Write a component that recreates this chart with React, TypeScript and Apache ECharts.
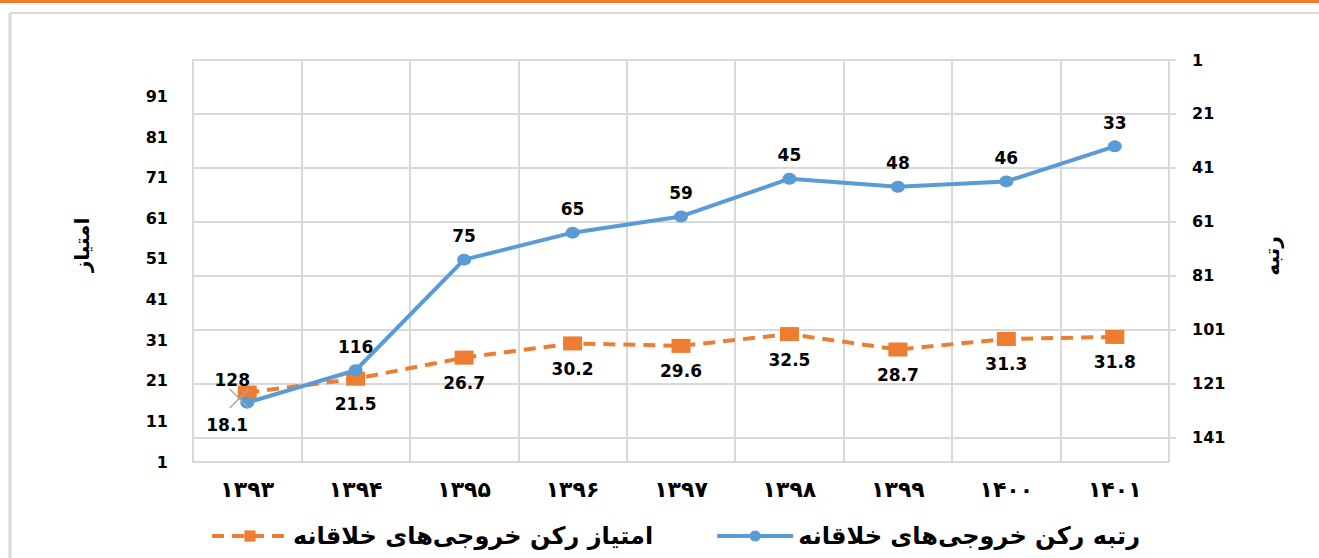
import React, { useEffect, useRef } from "react";
import * as echarts from "echarts";

const years = ["۱۳۹۳", "۱۳۹۴", "۱۳۹۵", "۱۳۹۶", "۱۳۹۷", "۱۳۹۸", "۱۳۹۹", "۱۴۰۰", "۱۴۰۱"];
const rankValues = [128, 116, 75, 65, 59, 45, 48, 46, 33];
const scoreValues = [18.1, 21.5, 26.7, 30.2, 29.6, 32.5, 28.7, 31.3, 31.8];
const scoreTicks = [1, 11, 21, 31, 41, 51, 61, 71, 81, 91];
const rankTicks = [1, 21, 41, 61, 81, 101, 121, 141];
const rankName = "رتبه رکن خروجی‌های خلاقانه";
const scoreName = "امتیاز رکن خروجی‌های خلاقانه";
const leftAxisTitle = "امتیاز";
const rightAxisTitle = "رتبه";

const BLUE = "#5B9BD5";
const ORANGE = "#ED7D31";
const GRID = "#D9D9D9";
const FONT = "DejaVu Sans";

export default function App() {
  const ref = useRef<HTMLDivElement>(null);
  useEffect(() => {
    if (!ref.current) return;
    const chart = echarts.init(ref.current, undefined, { renderer: "svg" });
    const rankData = rankValues.map((v, i) =>
      i === 0 ? { value: v, label: { offset: [-15, 1] } } : v
    );
    const scoreData = scoreValues.map((v, i) =>
      i === 0 ? { value: v, label: { offset: [-20, 7] } } : v
    );
    chart.setOption({
      animation: false,
      backgroundColor: "#ffffff",
      grid: { left: 193, right: 150, top: 60, bottom: 96, containLabel: false },
      legend: {
        data: [
          { name: scoreName, lineStyle: { width: 4 } },
          { name: rankName, lineStyle: { width: 4 } },
        ],
        left: 205,
        top: 519,
        itemWidth: 76,
        itemHeight: 14,
        itemGap: 62,
        textStyle: { fontFamily: FONT, fontWeight: "bold", fontSize: 24, color: "#000" },
      },
      graphic: [
        { type: "rect", shape: { x: 0, y: 0, width: 1319, height: 3 }, style: { fill: ORANGE }, silent: true },
        { type: "line", shape: { x1: 10, y1: 13, x2: 1319, y2: 13 }, style: { stroke: GRID, lineWidth: 2 }, silent: true },
        { type: "line", shape: { x1: 10, y1: 13, x2: 10, y2: 558 }, style: { stroke: GRID, lineWidth: 3 }, silent: true },
        {
          type: "text", x: 82, y: 245, rotation: Math.PI / 2,
          style: { text: leftAxisTitle, fontFamily: FONT, fontWeight: "bold", fontSize: 20, fill: "#000", align: "center", verticalAlign: "middle" },
        },
        {
          type: "text", x: 1272, y: 256, rotation: Math.PI / 2,
          style: { text: rightAxisTitle, fontFamily: FONT, fontWeight: "bold", fontSize: 20, fill: "#000", align: "center", verticalAlign: "middle" },
        },
      ],
      xAxis: {
        type: "category",
        data: years,
        boundaryGap: true,
        axisLine: { show: true, lineStyle: { color: GRID, width: 2 } },
        axisTick: { show: false },
        splitLine: { show: true, interval: 0, lineStyle: { color: GRID, width: 2 } },
        axisLabel: { interval: 0, margin: 16, fontFamily: FONT, fontWeight: "bold", fontSize: 22, color: "#000" },
      },
      yAxis: [
        {
          type: "value",
          position: "left",
          min: 1,
          max: 100,
          axisLine: { show: true, lineStyle: { color: GRID, width: 2 } },
          axisTick: { show: false, customValues: scoreTicks },
          splitLine: { show: false },
          axisLabel: {
            customValues: scoreTicks,
            margin: 25,
            fontFamily: FONT, fontWeight: "bold", fontSize: 16, color: "#000",
          },
        },
        {
          type: "value",
          position: "right",
          inverse: true,
          min: 1,
          max: 150,
          axisLine: { show: true, lineStyle: { color: GRID, width: 2 } },
          axisTick: { show: true, length: 7, customValues: rankTicks, lineStyle: { color: GRID, width: 2 } },
          splitLine: { show: true, lineStyle: { color: GRID, width: 2 } },
          axisLabel: {
            customValues: rankTicks,
            margin: 23,
            fontFamily: FONT, fontWeight: "bold", fontSize: 16, color: "#000",
          },
        },
      ],
      series: [
        {
          name: scoreName,
          type: "line",
          yAxisIndex: 0,
          data: scoreData,
          symbol: "rect",
          symbolSize: [19, 14],
          itemStyle: { color: ORANGE },
          lineStyle: { color: ORANGE, width: 4, type: [12, 8] },
          label: {
            show: true, position: "bottom", distance: 10,
            fontFamily: FONT, fontWeight: "bold", fontSize: 17, color: "#000",
          },
          markPoint: {
            silent: true,
            data: [
              {
                coord: [0, scoreValues[0]],
                symbol: "path://M0,1L1,0L10,9L19,0L20,1L11,10L20,19L19,20L10,11L1,20L0,19L9,10Z",
                symbolSize: 20,
                symbolOffset: [-8, 6],
                itemStyle: { color: "#A6A6A6" },
                label: { show: false },
              },
            ],
          },
          z: 2,
        },
        {
          name: rankName,
          type: "line",
          yAxisIndex: 1,
          data: rankData,
          symbol: "circle",
          symbolSize: [14, 12],
          itemStyle: { color: BLUE },
          lineStyle: { color: BLUE, width: 4 },
          label: {
            show: true, position: "top", distance: 9,
            fontFamily: FONT, fontWeight: "bold", fontSize: 17, color: "#000",
          },
          z: 3,
        },
      ],
    });
    return () => chart.dispose();
  }, []);
  return (
    <div
      ref={ref}
      style={{ position: "absolute", left: 0, top: 0, width: 1319, height: 558 }}
    />
  );
}
